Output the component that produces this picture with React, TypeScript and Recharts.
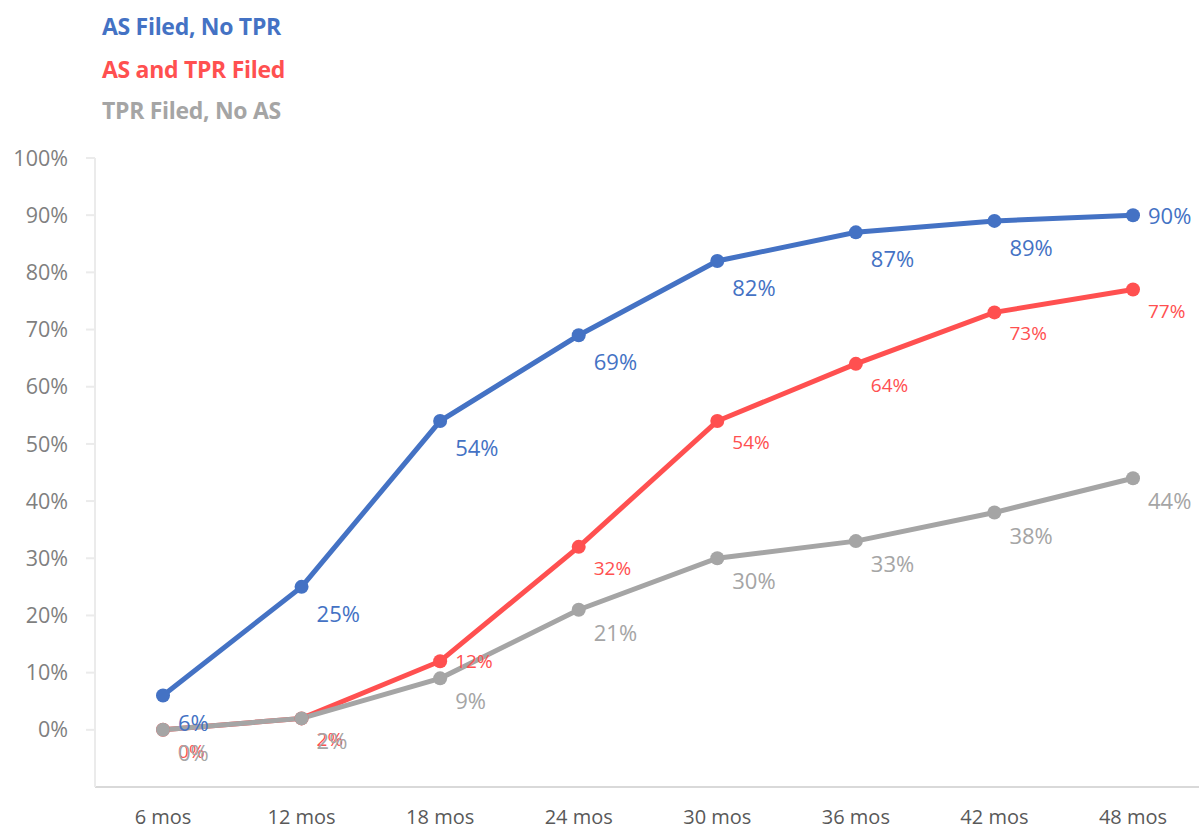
import { LineChart, Line, XAxis, YAxis, LabelList } from 'recharts';

const months = ['6 mos', '12 mos', '18 mos', '24 mos', '30 mos', '36 mos', '42 mos', '48 mos'];
const asNoTpr = [6, 25, 54, 69, 82, 87, 89, 90];
const asAndTpr = [0, 2, 12, 32, 54, 64, 73, 77];
const tprNoAs = [0, 2, 9, 21, 30, 33, 38, 44];
const yTicks = [0, 10, 20, 30, 40, 50, 60, 70, 80, 90, 100];

const BLUE = '#4472C4';
const RED = '#FF5050';
const GREY = '#A5A5A5';
const FONT = '"Open Sans", "Noto Sans", sans-serif';

const data = months.map((m, i) => ({
  month: m,
  blue: asNoTpr[i],
  red: asAndTpr[i],
  grey: tprNoAs[i],
}));

// label sits below-right of the point, except at the indices listed in `side`
const makeLabel = (color: string, size: number, dy: number, side: number[]) => (props: any) => {
  const { x, y, value, index } = props;
  const beside = side.includes(index);
  return (
    <text
      x={x + 15}
      y={beside ? y : y + dy}
      fill={color}
      fontSize={size}
      fontFamily={FONT}
      dominantBaseline="central"
      textAnchor="start"
    >
      {value}%
    </text>
  );
};

const legend = [
  { name: 'AS Filed, No TPR', color: BLUE, top: 26 },
  { name: 'AS and TPR Filed', color: RED, top: 69 },
  { name: 'TPR Filed, No AS', color: GREY, top: 110 },
];

const App = () => {
  return (
    <div style={{ position: 'absolute', left: 0, top: 0, width: 1199, height: 829, background: '#fff' }}>
      {legend.map((l) => (
        <div
          key={l.name}
          style={{
            position: 'absolute',
            left: 102,
            top: l.top - 16,
            lineHeight: '32px',
            fontFamily: FONT,
            fontWeight: 700,
            fontSize: 23,
            letterSpacing: -0.3,
            color: l.color,
            whiteSpace: 'nowrap',
          }}
        >
          {l.name}
        </div>
      ))}
      <LineChart width={1199} height={829} data={data} margin={{ top: 158, right: 0, bottom: 0, left: 0 }}>
        <XAxis
          dataKey="month"
          padding={{ left: 68, right: 66 }}
          axisLine={{ stroke: '#D9D9D9', strokeWidth: 2 }}
          tickLine={false}
          tickSize={0}
          tickMargin={23}
          tick={{ fill: '#595959', fontSize: 20, fontFamily: FONT }}
          height={42}
        />
        <YAxis
          width={95}
          domain={[-10, 100]}
          ticks={yTicks}
          interval={0}
          axisLine={{ stroke: '#EBEBEB', strokeWidth: 2 }}
          tickLine={{ stroke: '#EBEBEB', strokeWidth: 2 }}
          tickSize={9}
          tickMargin={18}
          tick={{ fill: '#7F7F7F', fontSize: 21.5, fontFamily: FONT }}
          tickFormatter={(v: number) => `${v}%`}
        />
        <Line
          dataKey="blue"
          stroke={BLUE}
          strokeWidth={5}
          dot={{ r: 7, fill: BLUE, stroke: BLUE, strokeWidth: 0 }}
          activeDot={false}
          isAnimationActive={false}
        >
          <LabelList dataKey="blue" content={makeLabel(BLUE, 22, 26, [7])} />
        </Line>
        <Line
          dataKey="red"
          stroke={RED}
          strokeWidth={5}
          dot={{ r: 7, fill: RED, stroke: RED, strokeWidth: 0 }}
          activeDot={false}
          isAnimationActive={false}
        >
          <LabelList dataKey="red" content={makeLabel(RED, 19, 21, [2])} />
        </Line>
        <Line
          dataKey="grey"
          stroke={GREY}
          strokeWidth={5}
          dot={{ r: 7, fill: GREY, stroke: GREY, strokeWidth: 0 }}
          activeDot={false}
          isAnimationActive={false}
        >
          <LabelList dataKey="grey" content={makeLabel(GREY, 22, 22, [])} />
        </Line>
      </LineChart>
    </div>
  );
};

export default App;
